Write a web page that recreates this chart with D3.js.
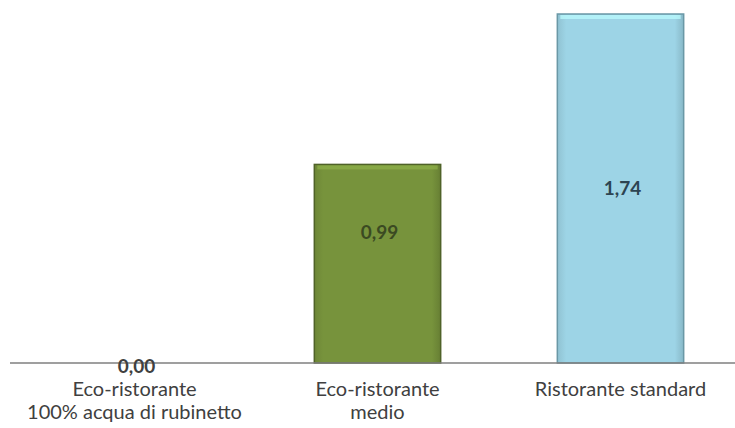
<!DOCTYPE html>
<html><head><meta charset="utf-8">
<script src="https://cdn.jsdelivr.net/npm/d3@7"></script>
<style>body{margin:0;background:#fff}svg{display:block}</style>
</head><body>
<svg id="c" width="735" height="428"></svg>
<script>
const categories = ["Eco-ristorante\n100% acqua di rubinetto", "Eco-ristorante\nmedio", "Ristorante standard"];
const values = [0.00, 0.99, 1.74];
const valueLabels = ["0,00", "0,99", "1,74"];

const fills = ["#77933c", "#77933c", "#9dd4e6"];
const strokes = ["#4f6228", "#4f6228", "#6a98a6"];
const labelColors = ["#404040", "#3b4a22", "#2d4452"];
const labelFrac = [0, 0.34, 0.5];

const svg = d3.select("#c");
const font = "Lato,'Liberation Sans',sans-serif";
const x = d3.scaleBand().domain(categories).range([13, 742]).paddingInner(0.48).paddingOuter(0.24);
const y = d3.scaleLinear().domain([0, 1.74]).range([363, 14]);

const defs = svg.append("defs");
fills.forEach((c, i) => {
  const g = defs.append("linearGradient").attr("id", "g" + i).attr("x1", 0).attr("x2", 1).attr("y1", 0).attr("y2", 0);
  g.append("stop").attr("offset", "0%").attr("stop-color", d3.color(c).darker(0.25));
  g.append("stop").attr("offset", "7%").attr("stop-color", c);
  g.append("stop").attr("offset", "93%").attr("stop-color", c);
  g.append("stop").attr("offset", "100%").attr("stop-color", d3.color(c).darker(0.4));
});

const bars = svg.selectAll("g.bar").data(categories).enter().append("g").attr("class", "bar");
bars.filter((d, i) => values[i] > 0).append("rect")
  .attr("x", d => x(d)).attr("width", x.bandwidth())
  .attr("y", d => y(values[categories.indexOf(d)]))
  .attr("height", d => y(0) - y(values[categories.indexOf(d)]))
  .attr("fill", d => "url(#g" + categories.indexOf(d) + ")")
  .attr("stroke", d => strokes[categories.indexOf(d)]).attr("stroke-width", 1.5);
bars.filter((d, i) => values[i] > 0).append("rect")
  .attr("x", d => x(d) + 3).attr("width", x.bandwidth() - 6)
  .attr("y", d => y(values[categories.indexOf(d)]) + 1).attr("height", 4)
  .attr("fill", d => d3.color(fills[categories.indexOf(d)]).brighter(0.5)).attr("opacity", 0.7);

svg.append("line").attr("x1", 10).attr("x2", 735).attr("y1", y(0)).attr("y2", y(0))
  .attr("stroke", "#7f7f7f").attr("stroke-width", 1.5);

svg.selectAll("text.val").data(categories).enter().append("text")
  .attr("x", d => x(d) + x.bandwidth() / 2 + 2)
  .attr("y", (d, i) => values[i] > 0 ? y(values[i]) + (y(0) - y(values[i])) * labelFrac[i] : y(0) + 3)
  .attr("dy", "0.35em").attr("text-anchor", "middle")
  .attr("font-family", font).attr("font-size", 19).attr("font-weight", "bold")
  .attr("fill", (d, i) => labelColors[i])
  .text((d, i) => valueLabels[i]);

const lab = svg.selectAll("text.cat").data(categories).enter().append("text")
  .attr("x", d => x(d) + x.bandwidth() / 2).attr("y", 396)
  .attr("text-anchor", "middle").attr("font-family", font).attr("font-size", 20).attr("fill", "#404040");
lab.selectAll("tspan").data(d => d.split("\n")).enter().append("tspan")
  .attr("x", function () { return d3.select(this.parentNode).attr("x"); })
  .attr("dy", (d, i) => i === 0 ? 0 : 23).text(d => d);
</script>
</body></html>
